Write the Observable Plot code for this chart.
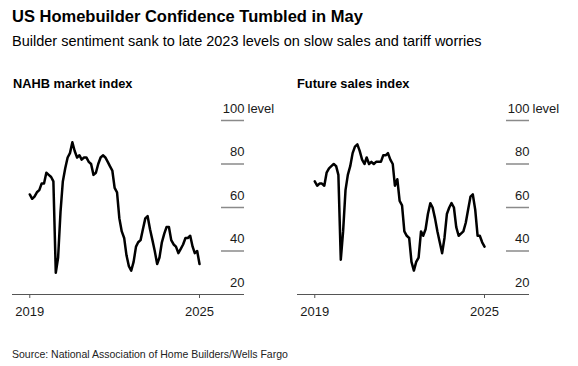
<!DOCTYPE html>
<html>
<head>
<meta charset="utf-8">
<script src="https://cdn.jsdelivr.net/npm/d3@7"></script>
<script src="https://cdn.jsdelivr.net/npm/@observablehq/plot@0.6"></script>
<style>
  body { margin: 0; background: #fff; font-family: "Liberation Sans", Arial, sans-serif; color: #000; }
  #wrap { position: relative; width: 578px; height: 366px; overflow: hidden; background: #fff; }
  .t { position: absolute; white-space: nowrap; line-height: 1; }
  .panel { position: absolute; top: 95px; }
</style>
</head>
<body>
<div id="wrap">
  <div class="t" style="left:12px;top:8px;font-size:16.5px;font-weight:bold;">US Homebuilder Confidence Tumbled in May</div>
  <div class="t" style="left:12px;top:33.7px;font-size:14.5px;">Builder sentiment sank to late 2023 levels on slow sales and tariff worries</div>
  <div class="t" style="left:13px;top:77.5px;font-size:12.8px;font-weight:bold;">NAHB market index</div>
  <div class="t" style="left:297px;top:77.5px;font-size:12.8px;font-weight:bold;">Future sales index</div>
  <div class="panel" id="p1" style="left:0px;"></div>
  <div class="panel" id="p2" style="left:285px;"></div>
  <div class="t" style="left:12px;top:349px;font-size:10.5px;color:#222;">Source: National Association of Home Builders/Wells Fargo</div>
</div>
<script>
// Monthly data, May 2019 – May 2025
const firstMonth = [2019, 4];   // May 2019 (month index 4)
const lastMonth = [2025, 4];    // May 2025

const nahbIndex = [
  66, 64, 65, 67, 68, 71, 71, 76,                 // 2019 May–Dec
  75, 74, 72, 30, 37, 58, 72, 78, 83, 85, 90, 86, // 2020
  83, 84, 82, 83, 83, 81, 80, 75, 76, 80, 83, 84, // 2021
  83, 81, 79, 77, 69, 67, 55, 49, 46, 38, 33, 31, // 2022
  35, 42, 44, 45, 50, 55, 56, 50, 45, 40, 34, 37, // 2023
  44, 48, 51, 51, 45, 43, 42, 39, 41, 43, 46, 46, // 2024
  47, 42, 39, 40, 34                              // 2025 Jan–May
];

const futureSales = [
  72, 70, 71, 71, 70, 76, 78, 79,                 // 2019 May–Dec
  80, 79, 75, 36, 49, 68, 75, 79, 85, 88, 89, 86, // 2020
  82, 80, 83, 80, 81, 80, 81, 81, 81, 84, 84, 85, // 2021
  82, 80, 70, 73, 63, 61, 49, 47, 46, 35, 31, 35, // 2022
  37, 49, 47, 50, 57, 62, 60, 55, 49, 44, 39, 46, // 2023
  57, 60, 62, 60, 51, 47, 48, 49, 53, 59, 65, 66, // 2024
  59, 47, 47, 44, 42                              // 2025 Jan–May
];

const yTicks = [20, 40, 60, 80, 100];
const yUnit = "level";

const start = new Date(Date.UTC(firstMonth[0], firstMonth[1], 1));
const end = new Date(Date.UTC(lastMonth[0], lastMonth[1], 1));
const months = d3.utcMonth.range(start, d3.utcMonth.offset(end, 1));
const xTicks = [start, end];

function panel(values) {
  const data = months.map((d, i) => ({date: d, value: values[i]}));
  const W = 290, H = 230, mL = 12, mR = 46;
  const frameW = W - mL - mR;
  return Plot.plot({
    width: W,
    height: H,
    marginLeft: mL,
    marginRight: mR,
    marginTop: 25,
    marginBottom: 31,
    x: {type: "utc", domain: [d3.utcDay.offset(start, -223), d3.utcDay.offset(end, 581)], axis: null},
    y: {domain: [20, 100], axis: null},
    style: {fontFamily: "'Liberation Sans', Arial, sans-serif", fontSize: "13px", color: "#1a1a1a", background: "transparent", overflow: "visible"},
    marks: [
      Plot.ruleY(yTicks.filter(d => d !== 20), {stroke: "#8a8a8a", strokeWidth: 1.5, insetLeft: frameW - 23}),
      Plot.ruleY([20], {stroke: "#555", strokeWidth: 1}),
      Plot.axisX(xTicks, {tickSize: 4, tickPadding: 8, tickFormat: d3.utcFormat("%Y"), fontSize: 13, stroke: "#555"}),
      Plot.text(yTicks, {y: d => d, text: d => String(d), frameAnchor: "right", textAnchor: "end", lineAnchor: "bottom", dy: -8, fontSize: 13, fill: "#1a1a1a"}),
      Plot.text([100], {y: d => d, text: () => yUnit, frameAnchor: "right", textAnchor: "start", lineAnchor: "bottom", dx: 3, dy: -8, fontSize: 13, fill: "#1a1a1a"}),
      Plot.line(data, {x: "date", y: "value", stroke: "#000", strokeWidth: 2.5, strokeLinejoin: "round", strokeLinecap: "round"})
    ]
  });
}

document.getElementById("p1").appendChild(panel(nahbIndex));
document.getElementById("p2").appendChild(panel(futureSales));
</script>
</body>
</html>
